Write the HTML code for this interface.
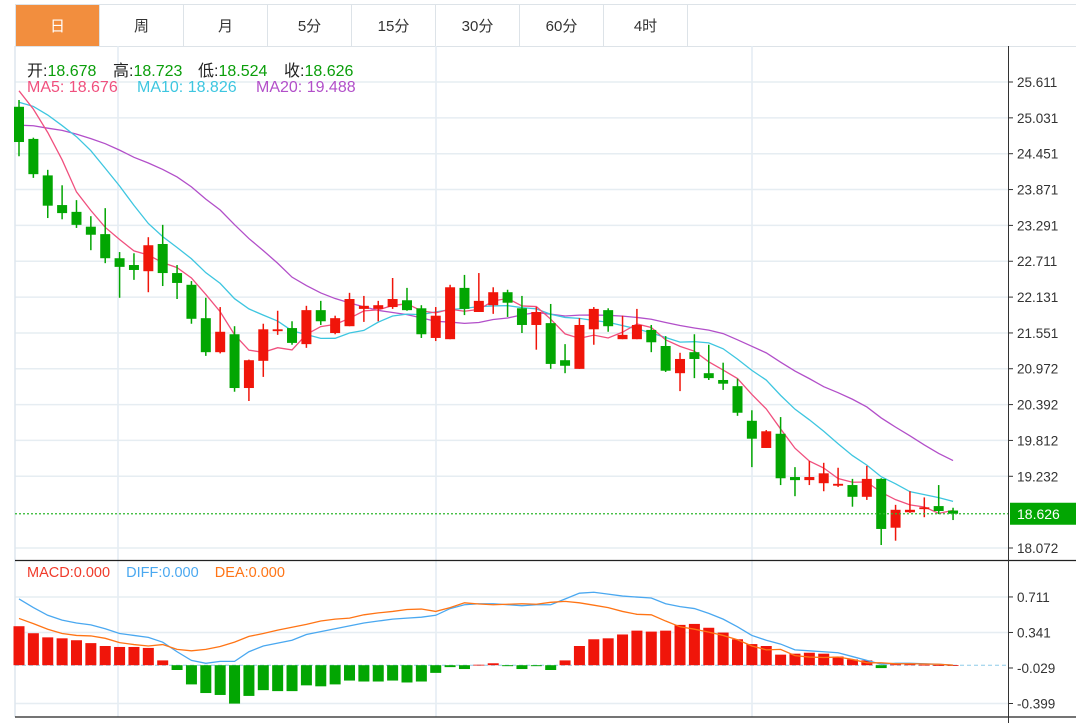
<!DOCTYPE html>
<html><head><meta charset="utf-8"><style>
body{margin:0;background:#fff;width:1076px;height:723px;overflow:hidden;font-family:"Liberation Sans","Noto Sans CJK SC",sans-serif}
.tabs{position:absolute;left:15px;top:4px;height:41px;display:flex;border:1px solid #dde3e8;border-right:none}
.tab{width:83px;border-right:1px solid #dde3e8;display:flex;align-items:center;justify-content:center;font-size:15px;color:#333}
.tab.on{background:#f28e3e;color:#fff}
.lg{position:absolute;font-size:16px;white-space:nowrap}
</style></head><body>
<div class="tabs">
<div class="tab on">日</div>
<div class="tab">周</div>
<div class="tab">月</div>
<div class="tab">5分</div>
<div class="tab">15分</div>
<div class="tab">30分</div>
<div class="tab">60分</div>
<div class="tab">4时</div>
<div style="width:390px"></div>
</div>
<svg id="chart" width="1076" height="723" style="position:absolute;left:0;top:0"></svg>
<script>
const opens=[25.21,24.69,24.10,23.62,23.51,23.27,23.15,22.76,22.65,22.55,22.99,22.52,22.33,21.79,21.24,21.53,20.66,21.10,21.58,21.63,21.37,21.92,21.55,21.66,21.94,21.94,21.97,22.08,21.95,21.47,21.45,22.28,21.89,22.00,22.21,21.95,21.68,21.71,21.11,20.97,21.61,21.92,21.45,21.45,21.60,21.34,20.90,21.24,20.90,20.79,20.69,20.13,19.69,19.92,19.22,19.17,19.12,19.08,19.09,18.90,19.19,18.40,18.65,18.70,18.75,18.678];
const highs=[25.32,24.71,24.19,23.94,23.70,23.44,23.57,22.86,22.84,23.10,23.30,22.65,22.39,22.12,21.97,21.66,21.12,21.70,21.91,21.74,21.99,22.07,21.83,22.20,22.15,22.07,22.44,22.28,22.00,21.97,22.33,22.49,22.52,22.29,22.25,22.15,21.97,22.02,21.37,21.79,21.97,21.95,21.83,21.94,21.68,21.50,21.23,21.53,21.36,21.07,20.81,20.30,19.98,20.19,19.38,19.48,19.45,19.37,19.19,19.40,19.20,18.77,18.99,18.89,19.09,18.723];
const lows=[24.41,24.06,23.41,23.39,23.25,22.89,22.68,22.12,22.41,22.21,22.31,22.10,21.70,21.18,21.22,20.60,20.45,20.84,21.52,21.36,21.31,21.68,21.53,21.66,21.73,21.74,21.94,21.91,21.47,21.42,21.45,21.84,21.89,21.86,21.81,21.55,21.28,20.97,20.90,20.97,21.36,21.57,21.45,21.45,21.24,20.92,20.61,20.82,20.79,20.63,20.21,19.38,19.69,19.09,18.91,19.09,18.99,19.06,18.74,18.85,18.12,18.19,18.64,18.57,18.62,18.524];
const closes=[24.64,24.12,23.61,23.49,23.30,23.14,22.76,22.62,22.57,22.97,22.52,22.36,21.78,21.24,21.57,20.66,21.11,21.61,21.61,21.39,21.92,21.74,21.79,22.10,21.99,22.00,22.10,21.92,21.53,21.83,22.29,21.94,22.07,22.21,22.04,21.68,21.89,21.05,21.02,21.68,21.94,21.66,21.52,21.68,21.40,20.94,21.13,21.13,20.82,20.73,20.26,19.84,19.96,19.20,19.17,19.22,19.28,19.11,18.90,19.19,18.38,18.69,18.69,18.73,18.67,18.626];
const priorCloses=[24.3,24.4,24.2,24.5,24.6,24.4,24.7,24.9,24.8,24.6,24.8,25.0,25.2,25.1,25.4,25.6,25.5,25.7,25.9];
const priceTicks=[25.611,25.031,24.451,23.871,23.291,22.711,22.131,21.551,20.972,20.392,19.812,19.232,18.072];
const macdHist=[0.406,0.333,0.29,0.28,0.26,0.23,0.2,0.19,0.19,0.18,0.05,-0.05,-0.2,-0.29,-0.31,-0.4,-0.32,-0.26,-0.27,-0.27,-0.21,-0.22,-0.2,-0.16,-0.17,-0.17,-0.16,-0.18,-0.17,-0.08,-0.02,-0.04,0.005,0.02,-0.01,-0.04,-0.01,-0.05,0.05,0.2,0.27,0.28,0.32,0.36,0.35,0.36,0.42,0.43,0.39,0.34,0.27,0.22,0.2,0.11,0.12,0.13,0.12,0.09,0.06,0.05,-0.03,0.01,0.01,0.005,0,0];
const diffVals=[0.69,0.60,0.52,0.47,0.44,0.42,0.38,0.33,0.31,0.29,0.24,0.14,0.05,0.02,0.04,0.04,0.14,0.20,0.23,0.26,0.32,0.35,0.38,0.41,0.44,0.46,0.48,0.49,0.50,0.52,0.59,0.63,0.64,0.64,0.63,0.62,0.63,0.63,0.69,0.75,0.76,0.74,0.72,0.71,0.70,0.64,0.61,0.59,0.54,0.48,0.40,0.31,0.26,0.22,0.16,0.15,0.14,0.13,0.09,0.05,0.01,0.02,0.02,0.015,0.01,0];
const macdTicks=[0.711,0.341,-0.029,-0.399];

const NS='http://www.w3.org/2000/svg';
const svg=document.getElementById('chart');
function mk(tag,attrs,parent){const e=document.createElementNS(NS,tag);for(const k in attrs)e.setAttribute(k,attrs[k]);(parent||svg).appendChild(e);return e;}
const X0=19,DX=14.37;
const xOf=i=>X0+i*DX;
const yP=v=>82+(25.611-v)*61.81;
const yM=v=>665.2-v*96;

const grid=mk('g',{});


[118,436,752].forEach(x=>{mk('line',{x1:x,y1:46,x2:x,y2:717,stroke:'#e3ecf3','stroke-width':1.5},grid);});
priceTicks.forEach(t=>{mk('line',{x1:15,y1:yP(t),x2:1008,y2:yP(t),stroke:'#e6edf2','stroke-width':1.5},grid);});
[0.711,0.341,-0.399].forEach(t=>{mk('line',{x1:15,y1:yM(t),x2:1008,y2:yM(t),stroke:'#e6edf2','stroke-width':1.5},grid);});
mk('line',{x1:15,y1:46,x2:15,y2:717,stroke:'#dde6ee','stroke-width':1.5},grid);
const sep=mk('line',{x1:15,y1:560.5,x2:1076,y2:560.5,stroke:'#222','stroke-width':1.2});


mk('line',{x1:15,y1:717,x2:1076,y2:717,stroke:'#222','stroke-width':1.2});
const ax=mk('line',{x1:1008.5,y1:46,x2:1008.5,y2:723,stroke:'#333','stroke-width':1});



priceTicks.forEach(t=>{
 mk('line',{x1:1008,y1:yP(t),x2:1013,y2:yP(t),stroke:'#333'});
 const tx=mk('text',{x:1017,y:yP(t)+5,'font-size':13.5,fill:'#333'});
 tx.textContent=t.toFixed(3);
 
 
});
macdTicks.forEach(t=>{
 mk('line',{x1:1008,y1:yM(t),x2:1013,y2:yM(t),stroke:'#333'});
 const tx=mk('text',{x:1017,y:yM(t)+5,'font-size':13.5,fill:'#333'});
 tx.textContent=t.toFixed(3);
 
 
});
mk('line',{x1:15,y1:yM(0),x2:1008,y2:yM(0),stroke:'#8ecbe8','stroke-dasharray':'4,3'});

const all=priorCloses.concat(closes);
function ma(n){const out=[];for(let i=0;i<closes.length;i++){const j=i+priorCloses.length;let s=0;for(let k=j-n+1;k<=j;k++)s+=all[k];out.push(s/n);}return out;}
function poly(vals,yf,color,name){const p=mk('polyline',{points:vals.map((v,i)=>xOf(i)+','+yf(v)).join(' '),fill:'none',stroke:color,'stroke-width':1.3});return p;}
poly(ma(20),yP,'#b24fc9','ma20-line');
poly(ma(10),yP,'#3ec6e0','ma10-line');
poly(ma(5),yP,'#f0507e','ma5-line');

const UP='#f0150a',DN='#02a602';
closes.forEach((c,i)=>{
 const o=opens[i],x=xOf(i),col=c>=o?UP:DN;
 const g=mk('g',{});
 
 
 mk('line',{x1:x,y1:yP(highs[i]),x2:x,y2:yP(lows[i]),stroke:col,'stroke-width':1.5},g);
 const t=yP(Math.max(o,c)),b=yP(Math.min(o,c));
 mk('rect',{x:x-5,y:t,width:10,height:Math.max(1.5,b-t),fill:col},g);
});

const last=closes[closes.length-1];
mk('line',{x1:15,y1:yP(last),x2:1008,y2:yP(last),stroke:'#2eb82e','stroke-width':1.3,'stroke-dasharray':'2,2'});
const lb=mk('rect',{x:1010,y:yP(last)-11,width:66,height:22,fill:'#02a602'});


const lt=mk('text',{x:1017,y:yP(last)+5.5,'font-size':14,fill:'#fff'});
lt.textContent=last.toFixed(3);

macdHist.forEach((v,i)=>{
 const x=xOf(i),y0=yM(0),y1=yM(v);
 const r=mk('rect',{x:x-5.5,y:Math.min(y0,y1),width:11,height:Math.max(0.8,Math.abs(y1-y0)),fill:v>=0?UP:DN});
 
 
});
const deaVals=diffVals.map((d,i)=>d-macdHist[i]/2);
poly(diffVals,yM,'#4aa8f0','diff-line');
poly(deaVals,yM,'#ff7415','dea-line');
</script>
<div class="lg" style="left:27px;top:57px;color:#222">开:<span style="color:#0a9e0a">18.678</span></div>
<div class="lg" style="left:113px;top:57px;color:#222">高:<span style="color:#0a9e0a">18.723</span></div>
<div class="lg" style="left:198px;top:57px;color:#222">低:<span style="color:#0a9e0a">18.524</span></div>
<div class="lg" style="left:284px;top:57px;color:#222">收:<span style="color:#0a9e0a">18.626</span></div>
<div class="lg" style="left:27px;top:79px;color:#f0507e">MA5: 18.676</div>
<div class="lg" style="left:137px;top:79px;color:#3ec6e0">MA10: 18.826</div>
<div class="lg" style="left:256px;top:79px;color:#b24fc9">MA20: 19.488</div>
<div class="lg" style="left:27px;top:565px;font-size:14.5px"><span style="color:#f03a2a">MACD:0.000</span>&nbsp;&nbsp;&nbsp; <span style="color:#4aa8f0">DIFF:0.000</span>&nbsp;&nbsp;&nbsp; <span style="color:#ff7415">DEA:0.000</span></div>
</body></html>
